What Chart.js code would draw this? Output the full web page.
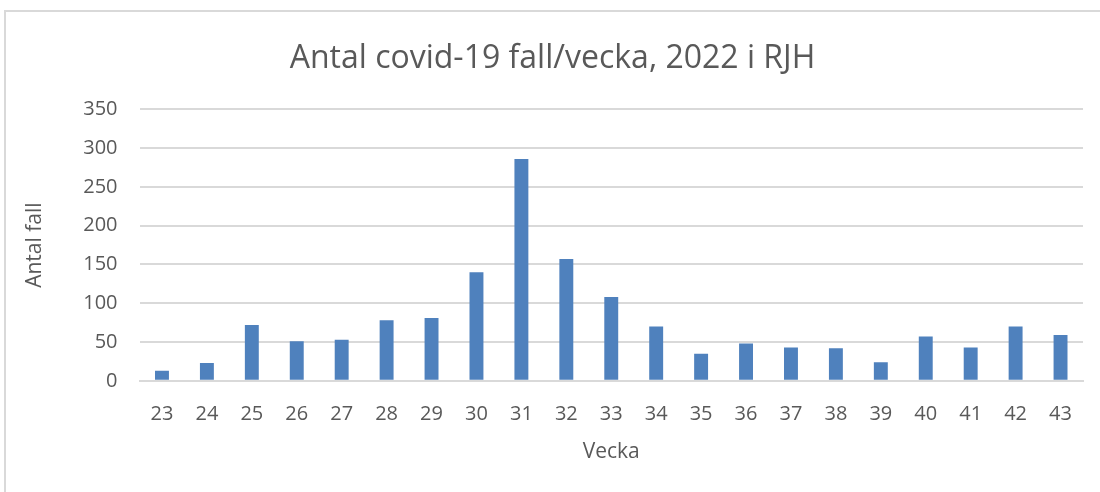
<!DOCTYPE html>
<html>
<head>
<meta charset="utf-8">
<script src="https://cdn.jsdelivr.net/npm/chart.js@4/dist/chart.umd.min.js"></script>
<style>
  html, body { margin: 0; padding: 0; background: #fff; }
  #wrap { position: relative; width: 1100px; height: 492px; }
  #frame { position: absolute; left: 4px; top: 10px; width: 1110px; height: 500px;
           border-left: 2px solid #d9d9d9; border-top: 2px solid #d9d9d9; box-sizing: border-box; }
  canvas { position: absolute; left: 0; top: 0; }
</style>
</head>
<body>
<div id="wrap">
  <div id="frame"></div>
  <canvas id="chart" width="1100" height="492"></canvas>
</div>
<script>
// Weeks and case counts
const weeks = ['23', '24', '25', '26', '27', '28', '29', '30', '31', '32', '33',
               '34', '35', '36', '37', '38', '39', '40', '41', '42', '43'];
const cases = [13, 23, 72, 51, 53, 78, 81, 140, 286, 157, 108,
               70, 35, 48, 43, 42, 24, 57, 43, 70, 59];

const textColor = '#595959';
const fontFamily = '"Open Sans", sans-serif';

new Chart(document.getElementById('chart'), {
    type: 'bar',
    data: {
        labels: weeks,
        datasets: [{
            label: 'Antal fall',
            data: cases,
            backgroundColor: '#4f81bd',
            borderWidth: 0,
            barPercentage: 0.31,
            categoryPercentage: 1
        }]
    },
    options: {
        responsive: false,
        animation: false,
        layout: {
            padding: { left: 22, right: 17, top: 40, bottom: 27 }
        },
        plugins: {
            legend: { display: false },
            tooltip: { enabled: false },
            title: {
                display: true,
                text: 'Antal covid-19 fall/vecka, 2022 i RJH',
                color: textColor,
                font: { family: fontFamily, size: 32, weight: 'normal' },
                padding: { top: 0, bottom: 31 }
            }
        },
        scales: {
            x: {
                grid: { display: false },
                border: { display: true, color: '#d9d9d9', width: 2 },
                ticks: {
                    color: textColor,
                    font: { family: fontFamily, size: 20 },
                    maxRotation: 0,
                    padding: 13
                },
                title: {
                    display: true,
                    text: 'Vecka',
                    color: textColor,
                    font: { family: fontFamily, size: 21 },
                    padding: { top: 1, bottom: 0 }
                }
            },
            y: {
                min: 0,
                max: 350,
                ticks: {
                    stepSize: 50,
                    color: textColor,
                    font: { family: fontFamily, size: 20 },
                    padding: 22
                },
                grid: { color: '#d9d9d9', lineWidth: 2, drawTicks: false },
                border: { display: false },
                title: {
                    display: true,
                    text: 'Antal fall',
                    color: textColor,
                    font: { family: fontFamily, size: 21 },
                    padding: { top: 0, bottom: 14 }
                }
            }
        }
    }
});
</script>
</body>
</html>
